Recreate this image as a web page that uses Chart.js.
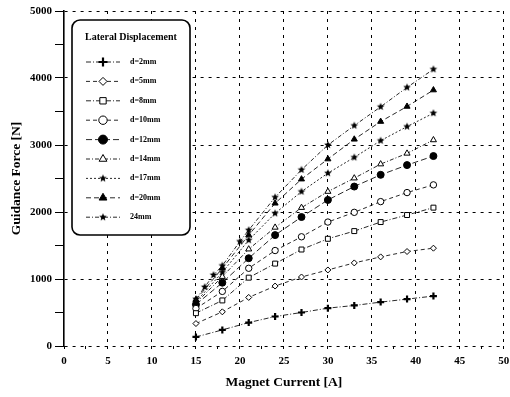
<!DOCTYPE html>
<html>
<head>
<meta charset="utf-8">
<script src="https://cdn.jsdelivr.net/npm/chart.js@4.4.1/dist/chart.umd.min.js"></script>
<style>
html, body { margin: 0; background: #fff; }
</style>
</head>
<body>
<canvas id="guidanceChart" width="510" height="397"></canvas>
<script>
// magnet current [A]
var current = [15, 18, 21, 24, 27, 30, 33, 36, 39, 42];
var current24 = [15, 16, 17, 18, 20, 21, 24, 27, 30, 33, 36, 39, 42];

// guidance force [N] per lateral displacement
var f2mm  = [135, 240, 350, 440, 500, 565, 605, 655, 700, 745];
var f5mm  = [335, 510, 725, 895, 1030, 1135, 1240, 1330, 1410, 1460];
var f8mm  = [490, 680, 1020, 1230, 1440, 1600, 1715, 1850, 1955, 2065];
var f10mm = [560, 815, 1160, 1425, 1630, 1850, 1995, 2155, 2290, 2405];
var f12mm = [620, 945, 1310, 1655, 1925, 2180, 2380, 2555, 2700, 2835];
var f14mm = [640, 1035, 1445, 1770, 2065, 2305, 2505, 2715, 2875, 3075];
var f17mm = [660, 1100, 1580, 1980, 2305, 2580, 2815, 3065, 3275, 3475];
var f20mm = [690, 1160, 1655, 2130, 2490, 2790, 3085, 3350, 3575, 3820];
var f24mm = [700, 880, 1060, 1200, 1560, 1730, 2220, 2630, 3000, 3290, 3570, 3860, 4130];

var seriesNames = ['d=2mm', 'd=5mm', 'd=8mm', 'd=10mm', 'd=12mm', 'd=14mm', 'd=17mm', 'd=20mm', '24mm'];

var xTicks = [0, 5, 10, 15, 20, 25, 30, 35, 40, 45, 50];
var yTicks = [0, 1000, 2000, 3000, 4000, 5000];

var serif = "'Liberation Serif', 'DejaVu Serif', serif";

function makeStar(r) {
    var c = document.createElement('canvas');
    c.width = c.height = Math.ceil(r * 2 + 2);
    var g = c.getContext('2d');
    var cx = c.width / 2, cy = c.height / 2;
    g.beginPath();
    for (var i = 0; i < 10; i++) {
        var rad = i % 2 ? r * 0.45 : r;
        var a = -Math.PI / 2 + i * Math.PI / 5;
        g.lineTo(cx + rad * Math.cos(a), cy + rad * Math.sin(a));
    }
    g.closePath();
    g.fillStyle = '#000';
    g.fill();
    return c;
}
var star = makeStar(4);

function pairs(xs, ys) {
    return xs.map(function (x, i) { return { x: x, y: ys[i] }; });
}

function series(i, xs, ys, style, fill, radius, dash, bw) {
    return {
        label: seriesNames[i],
        data: pairs(xs, ys),
        borderColor: '#111',
        borderWidth: 0.9,
        borderDash: dash,
        pointStyle: style,
        pointRadius: radius,
        pointBorderWidth: bw || 1,
        pointBackgroundColor: fill,
        pointBorderColor: '#000',
        fill: false,
        tension: 0
    };
}

var datasets = [
    series(0, current, f2mm, 'cross', '#000', 3.5, [5, 2, 1, 2], 2.2),
    series(1, current, f5mm, 'rectRot', '#fff', 3, [4, 3]),
    series(2, current, f8mm, 'rect', '#fff', 3.5, [5, 2, 1, 2]),
    series(3, current, f10mm, 'circle', '#fff', 3.2, [4, 3]),
    series(4, current, f12mm, 'circle', '#000', 3.5, [6, 3]),
    series(5, current, f14mm, 'triangle', '#fff', 3.5, [4, 2, 1, 2]),
    series(6, current, f17mm, star, '#000', 3.5, [2, 2]),
    series(7, current, f20mm, 'triangle', '#000', 3.5, [5, 3]),
    series(8, current24, f24mm, star, '#000', 3.5, [4, 2, 1, 2])
];

// boxed legend drawn inside the plot, like the original figure
var boxLegend = {
    id: 'boxLegend',
    afterDraw: function (chart) {
        var ctx = chart.ctx;
        var x0 = 72, y0 = 20, w = 118, h = 215, r = 8;
        ctx.save();
        ctx.fillStyle = '#fff';
        ctx.strokeStyle = '#000';
        ctx.lineWidth = 1.6;
        ctx.beginPath();
        ctx.roundRect(x0, y0, w, h, r);
        ctx.fill();
        ctx.stroke();

        ctx.fillStyle = '#000';
        ctx.font = 'bold 10px ' + serif;
        ctx.textBaseline = 'middle';
        ctx.textAlign = 'left';
        ctx.fillText('Lateral Displacement', x0 + 13, y0 + 17);

        chart.data.datasets.forEach(function (ds, i) {
            var y = 62 + i * 19.4;
            ctx.strokeStyle = '#111';
            ctx.lineWidth = 0.9;
            ctx.setLineDash(ds.borderDash);
            ctx.beginPath();
            ctx.moveTo(86, y);
            ctx.lineTo(120, y);
            ctx.stroke();
            ctx.setLineDash([]);
            ctx.fillStyle = ds.pointBackgroundColor;
            ctx.strokeStyle = '#000';
            ctx.lineWidth = ds.pointBorderWidth;
            Chart.helpers.drawPoint(ctx, {
                pointStyle: ds.pointStyle,
                radius: ds.pointRadius + 1,
                rotation: 0,
                borderWidth: ds.pointBorderWidth
            }, 103, y);
            ctx.fillStyle = '#000';
            ctx.font = 'bold 8px ' + serif;
            ctx.fillText(ds.label, 130, y);
        });
        ctx.restore();
    }
};

var ctx = document.getElementById('guidanceChart').getContext('2d');
var chart = new Chart(ctx, {
    type: 'line',
    data: { datasets: datasets },
    plugins: [boxLegend],
    options: {
        responsive: false,
        animation: false,
        layout: { padding: { top: 11, right: 0 } },
        plugins: {
            legend: { display: false },
            tooltip: { enabled: false }
        },
        scales: {
            x: {
                type: 'linear',
                min: 0,
                max: 50,
                afterFit: function (scale) { scale.height = 51; scale.paddingRight = 6; },
                afterBuildTicks: function (scale) {
                    var t = [];
                    xTicks.forEach(function (v) {
                        t.push({ value: v });
                        if (v < 50) t.push({ value: v + 2.5 });
                    });
                    scale.ticks = t;
                },
                ticks: {
                    autoSkip: false,
                    maxRotation: 0,
                    padding: 6,
                    color: '#000',
                    font: { family: serif, size: 11, weight: 'bold' },
                    callback: function (v) { return xTicks.indexOf(v) >= 0 ? String(v) : ''; }
                },
                grid: {
                    color: function (c) {
                        return (c.tick && xTicks.indexOf(c.tick.value) >= 0 && c.tick.value > 0) ? '#000' : 'rgba(0,0,0,0)';
                    },
                    lineWidth: 1,
                    tickColor: '#000',
                    tickLength: 3
                },
                border: { display: false, dash: [3, 5] },
                title: {
                    display: true,
                    text: 'Magnet Current [A]',
                    color: '#000',
                    font: { family: serif, size: 13.5, weight: 'bold' },
                    padding: { top: 0, bottom: 6 }
                }
            },
            y: {
                min: 0,
                max: 5000,
                afterFit: function (scale) { scale.width = 64; },
                afterBuildTicks: function (scale) {
                    var t = [];
                    yTicks.forEach(function (v) {
                        t.push({ value: v });
                        if (v < 5000) t.push({ value: v + 500 });
                    });
                    scale.ticks = t;
                },
                ticks: {
                    autoSkip: false,
                    padding: 3,
                    color: '#000',
                    font: { family: serif, size: 11, weight: 'bold' },
                    callback: function (v) { return yTicks.indexOf(v) >= 0 ? String(v) : ''; }
                },
                grid: {
                    color: function (c) {
                        return (c.tick && yTicks.indexOf(c.tick.value) >= 0) ? '#000' : 'rgba(0,0,0,0)';
                    },
                    lineWidth: 1,
                    tickColor: '#000',
                    tickLength: 9
                },
                border: { display: true, color: '#000', width: 1.6, dash: [3, 5] },
                title: {
                    display: true,
                    text: 'Guidance Force [N]',
                    color: '#000',
                    font: { family: serif, size: 13.5, weight: 'bold' },
                    padding: { top: 8, bottom: 2 }
                }
            }
        }
    }
});
</script>
</body>
</html>
